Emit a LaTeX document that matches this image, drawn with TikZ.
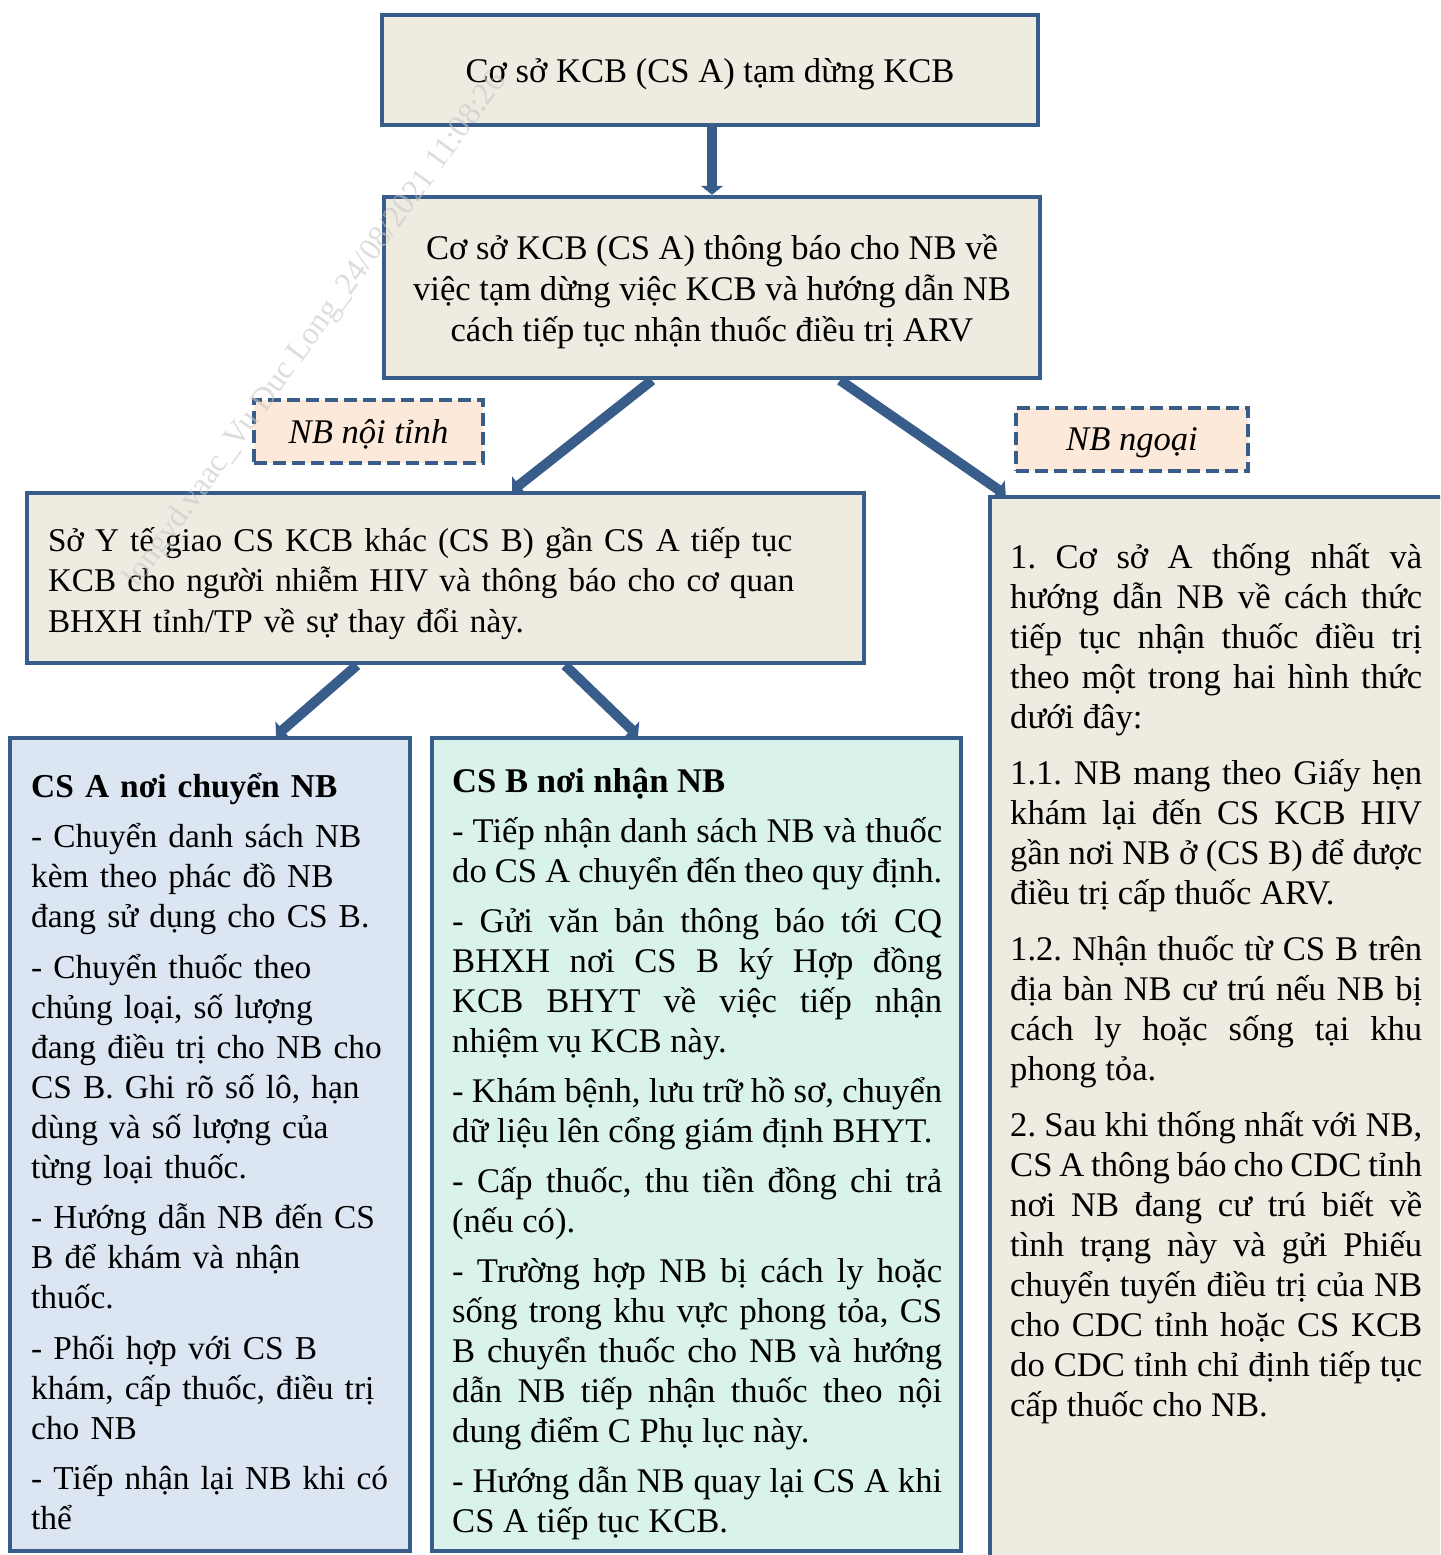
\documentclass[tikz,border=0pt]{standalone}
\usepackage{fontspec}
\setmainfont{Liberation Serif}
\usetikzlibrary{arrows.meta}
\definecolor{nbblue}{HTML}{385D8A}
\definecolor{boxbeige}{HTML}{EEECE1}
\definecolor{tagpeach}{HTML}{FDE9D9}
\definecolor{csafill}{HTML}{DCE6F2}
\definecolor{csbfill}{HTML}{D9F2EC}
\hyphenpenalty=10000
\exhyphenpenalty=10000
\frenchspacing
\newcommand{\nbfont}{\fontsize{34.6}{40}\selectfont}

\begin{document}
\begin{tikzpicture}[x=1pt,y=-1pt,font=\nbfont,
  box/.style={draw=nbblue,line width=4.5pt,fill=boxbeige,inner sep=0pt},
  tag/.style={draw=nbblue,line width=4pt,dash pattern=on 13pt off 6pt,fill=tagpeach,font=\nbfont\itshape,minimum height=63pt},
  body/.style={anchor=base west,inner sep=0pt,text width=#1},
  flow/.style={draw=nbblue,line width=10pt,-{Triangle[width=22pt,length=9pt]}}]
\clip (0,0) rectangle (1440,1555);
\node [box,text depth=0pt,minimum width=656pt,minimum height=110pt] (stop) at (710,70) {Cơ sở KCB (CS A) tạm dừng KCB};
\node [box,align=center,font=\fontsize{34.6}{41}\selectfont,minimum width=656pt,minimum height=181pt] (notify) at (712,287.5) {\rule{0pt}{33pt}Cơ sở KCB (CS A) thông báo cho NB về\\việc tạm dừng việc KCB và hướng dẫn NB\\cách tiếp tục nhận thuốc điều trị ARV};
\node [tag,minimum width=229pt] (inprov) at (368.5,431.5) {\rule{0pt}{30pt}NB nội tỉnh};
\node [tag,minimum width=232pt] (outprov) at (1132,439.5) {\rule{0pt}{30pt}NB ngoại};
\node [box,align=left,font=\fontsize{33.2}{40.5}\selectfont,text width=795pt,inner xsep=21pt,minimum height=170pt] (assign) at (445.5,578) {\rule{0pt}{35pt}Sở Y tế giao CS KCB khác (CS B) gần CS A tiếp tục\\KCB cho người nhiễm HIV và thông báo cho cơ quan\\BHXH tỉnh/TP về sự thay đổi này.};
\node [box,fill=csafill,minimum width=400pt,minimum height=813pt] (csa) at (210,1144.5) {};
\node [box,fill=csbfill,minimum width=529pt,minimum height=813pt] (csb) at (696.5,1144.5) {};
\node [box,minimum width=470pt,minimum height=1083pt] (other) at (1225,1038.5) {};
\node [body=370pt,align=left,font=\fontsize{33.4}{40}\selectfont] (csatxt) at (31,797) {\setlength{\parskip}{10.5pt}\textbf{CS A nơi chuyển NB}\par
- Chuyển danh sách NB\\kèm theo phác đồ NB\\đang sử dụng cho CS B.\par
- Chuyển thuốc theo\\chủng loại, số lượng\\đang điều trị cho NB cho\\CS B. Ghi rõ số lô, hạn\\dùng và số lượng của\\từng loại thuốc.\par
- Hướng dẫn NB đến CS\\B để khám và nhận\\thuốc.\par
- Phối hợp với CS B\\khám, cấp thuốc, điều trị\\cho NB\par
- Tiếp nhận lại NB khi có\\thể};
\node [body=490pt,align=justify] (csbtxt) at (452,792) {\setlength{\parskip}{10pt}\textbf{CS B nơi nhận NB}\par
- Tiếp nhận danh sách NB và thuốc\linebreak do CS A chuyển đến theo quy định.\par
- Gửi văn bản thông báo tới CQ\linebreak BHXH nơi CS B ký Hợp đồng\linebreak KCB BHYT về việc tiếp nhận\linebreak nhiệm vụ KCB này.\par
- Khám bệnh, lưu trữ hồ sơ, chuyển\linebreak dữ liệu lên cổng giám định BHYT.\par
- Cấp thuốc, thu tiền đồng chi trả\linebreak (nếu có).\par
- Trường hợp NB bị cách ly hoặc\linebreak sống trong khu vực phong tỏa, CS\linebreak B chuyển thuốc cho NB và hướng\linebreak dẫn NB tiếp nhận thuốc theo nội\linebreak dung điểm C Phụ lục này.\par
- Hướng dẫn NB quay lại CS A khi\linebreak CS A tiếp tục KCB.};
\node [body=412pt,align=justify] (othertxt) at (1010,568) {\setlength{\parskip}{16pt}1. Cơ sở A thống nhất và\linebreak hướng dẫn NB về cách thức\linebreak tiếp tục nhận thuốc điều trị\linebreak theo một trong hai hình thức\linebreak dưới đây:\par
1.1. NB mang theo Giấy hẹn\linebreak khám lại đến CS KCB HIV\linebreak gần nơi NB ở (CS B) để được\linebreak điều trị cấp thuốc ARV.\par
1.2. Nhận thuốc từ CS B trên\linebreak địa bàn NB cư trú nếu NB bị\linebreak cách ly hoặc sống tại khu\linebreak phong tỏa.\par
2. Sau khi thống nhất với NB,\linebreak CS A thông báo cho CDC tỉnh\linebreak nơi NB đang cư trú biết về\linebreak tình trạng này và gửi Phiếu\linebreak chuyển tuyến điều trị của NB\linebreak cho CDC tỉnh hoặc CS KCB\linebreak do CDC tỉnh chỉ định tiếp tục\linebreak cấp thuốc cho NB.};
\draw [flow] ([xshift=2pt]stop.south) -- (notify.north);
\draw [flow] ([xshift=-60pt]notify.south) -- ([xshift=66.5pt]assign.north);
\draw [flow] ([xshift=128pt]notify.south) -- ([xshift=18pt]other.north west);
\draw [flow] ([xshift=-88.5pt]assign.south) -- ([xshift=66pt]csa.north);
\draw [flow] ([xshift=119.5pt]assign.south) -- ([xshift=-58.5pt]csb.north);
\node [rotate=54,text=gray!45,opacity=0.6,font=\fontsize{32}{38}\selectfont] (stamp) at (316,330) {longvd.vaac\_Vu Duc Long\_24/08/2021 11:08:26};
\end{tikzpicture}
\end{document}
